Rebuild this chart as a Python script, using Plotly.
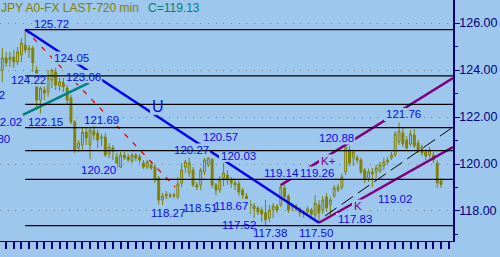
import plotly.graph_objects as go

# ---------------- data ----------------
opens = [124.00,124.51,124.43,124.55,124.34,124.64,125.06,124.85,124.94,124.00,
         122.72,123.15,123.06,123.57,123.92,123.32,123.49,123.23,122.81,121.79,
         120.68,120.81,121.36,120.81,121.40,121.32,121.11,121.15,120.43,120.68,
         120.30,119.87,120.38,120.30,120.13,120.38,120.30,120.04,119.87,119.96,
         119.87,119.40,118.47,118.64,118.68,118.64,118.60,119.19,119.87,119.62,
         119.74,119.11,119.11,119.66,119.96,120.20,119.11,118.89,119.40,119.53,
         119.32,119.19,119.15,118.89,118.64,118.30,118.21,118.13,118.04,117.92,
         117.70,118.04,118.21,118.26,118.98,118.64,118.17,118.21,118.09,117.96,
         117.96,118.04,117.83,118.26,118.04,118.60,118.26,118.64,118.89,119.02,
         119.66,120.60,120.26,120.26,120.17,119.74,119.40,119.66,119.66,119.70,
         119.92,120.09,120.26,120.38,120.94,121.32,121.02,120.85,121.23,120.89,
         120.72,120.51,120.38,120.38,120.04,119.28]
highs = [124.94,124.77,124.77,124.85,124.98,125.36,125.72,125.06,125.02,124.17,
         123.40,123.36,124.00,124.05,124.09,123.66,123.66,123.36,122.94,121.87,
         121.02,121.53,121.53,121.58,121.69,121.45,121.28,121.32,120.89,120.81,
         120.47,120.51,120.51,120.43,120.47,120.47,120.43,120.17,120.17,120.09,
         120.00,119.49,118.77,118.85,118.77,118.77,119.45,120.04,120.17,120.26,
         119.87,119.23,119.83,120.26,120.27,120.25,119.19,119.49,120.03,119.74,
         119.45,119.32,119.28,118.98,118.77,118.47,118.34,118.21,118.17,118.47,
         118.26,118.34,118.30,119.14,119.11,118.72,118.34,118.30,118.17,118.04,
         118.21,118.13,118.68,118.47,118.64,118.77,118.60,119.11,119.15,119.58,
         120.88,120.77,120.60,120.38,120.26,119.83,119.79,119.83,119.96,120.09,
         120.26,120.30,120.51,121.40,121.76,121.57,121.19,121.45,121.49,121.02,
         120.81,120.64,120.72,120.51,120.17,119.40]
lows = [123.49,124.13,124.13,124.09,124.21,124.34,124.72,124.51,123.92,122.30,
        122.15,122.72,122.85,123.23,123.15,123.11,123.06,122.55,121.70,120.47,
        120.51,120.60,120.81,120.20,121.02,120.68,120.77,120.30,120.26,120.17,
        119.74,119.83,120.17,120.09,120.04,120.13,120.04,119.79,119.79,119.74,
        119.19,118.27,118.26,118.51,118.55,118.55,118.51,119.02,119.62,119.45,
        119.02,118.89,118.89,119.53,119.87,118.98,118.67,118.77,119.06,119.11,
        118.98,118.89,118.64,118.26,118.04,117.87,117.70,117.83,117.52,117.38,
        117.53,117.70,117.92,118.17,118.47,117.92,118.00,117.96,117.75,117.70,
        117.79,117.66,117.66,117.50,117.87,117.96,117.83,118.55,118.81,118.89,
        119.53,119.92,119.92,120.04,119.58,119.19,119.23,119.02,119.40,119.62,
        119.74,119.96,120.17,120.30,120.81,120.72,120.55,120.77,120.68,120.47,
        120.34,120.17,120.26,120.04,118.98,118.98]
closes = [124.51,124.30,124.55,124.34,124.77,125.15,124.85,124.94,124.30,122.72,
          123.23,123.02,123.66,124.00,123.36,123.49,123.28,122.72,121.79,120.60,
          120.89,121.36,121.11,121.45,121.23,121.02,121.15,120.38,120.72,120.55,
          119.87,120.38,120.26,120.17,120.38,120.26,120.17,119.87,120.09,119.83,
          119.32,118.47,118.64,118.72,118.64,118.68,119.15,119.74,120.09,120.04,
          119.11,119.02,119.74,120.17,120.26,119.11,118.89,119.32,119.62,119.32,
          119.19,119.11,118.81,118.68,118.34,118.21,118.09,117.96,117.87,117.62,
          118.04,118.21,118.04,119.02,118.60,118.04,118.26,118.09,117.92,117.87,
          118.09,117.87,118.34,117.92,118.47,118.13,118.47,118.98,119.02,119.45,
          120.72,120.04,120.51,120.17,119.66,119.32,119.66,119.58,119.83,119.96,
          120.09,120.17,120.38,121.28,121.40,120.85,120.68,121.28,120.77,120.60,
          120.47,120.34,120.60,120.17,119.19,119.13]
bars = list(range(len(opens)))

# swing extremes used by the drawing tools (bar index, price)
swing_high = (6, 125.72)
swing_low = (69, 117.38)
fib_ratios = [0.0, 0.236, 0.382, 0.5, 0.618, 0.764, 1.0]

# trend lines: ((bar, price), (bar, price))
blue_line = ((6, 125.72), (83, 117.50))
red_line = ((6, 125.72), (45.3, 119.02))
teal_line = ((5.4, 122.09), (22.7, 123.45))
purple_low = ((83, 117.50), (118.14, 120.72))
purple_up = ((73, 119.10), (118.14, 123.66))
black_line = ((84.6, 117.79), (118.14, 121.57))

# labels: text, anchor bar, anchor price, anchor side
label_texts = ["125.72","124.05","123.06","124.22","122.02","122.15","122.72","120.80",
               "121.69","120.20","U","120.57","120.27","120.03","118.27","118.51",
               "118.67","117.52","117.38","117.50","119.14","119.26","K+","120.88",
               "121.76","K","119.02","117.83"]
label_bars = [8.05,13.29,16.44,2.02,5.45,6.47,0.84,2.15,
              21.15,20.37,38.98,52.35,44.75,57.06,38.72,47.10,
              55.23,57.33,65.45,77.51,68.34,77.77,83.28,82.75,
              100.32,91.93,98.22,87.73]
label_prices = [125.94,124.51,123.72,123.57,121.77,121.77,122.92,121.06,
                121.89,119.745,122.43,121.15,120.60,120.36,117.915,118.11,
                118.23,117.40,117.06,117.06,119.62,119.62,120.13,121.11,
                122.11,118.21,118.53,117.64]
label_side = ["left"]*4 + ["right", "left", "right", "right"] + ["left"]*20
tick_vals = [118, 120, 122, 124, 126]

title_text = "JPY A0-FX LAST-720 min"
last_text = "C=119.13"

# ---------------- styling ----------------
BG = "#9DC7EC"
OLIVE = "#808000"
NAVY = "#000080"
LBL = "#0A0AEE"
PURPLE = "#800080"
FONT = "Liberation Sans, Arial, sans-serif"
PLOT_W, PLOT_H = 453, 241
X_RANGE = [-0.603, 118.14]
Y_RANGE = [116.723, 126.979]
ppx = PLOT_W / (X_RANGE[1] - X_RANGE[0])
ppy = PLOT_H / (Y_RANGE[1] - Y_RANGE[0])
LFS = 11.5
CW = {'.': 0.278, 'K': 0.667, '+': 0.584, 'U': 0.722}


def text_w(t, fs):
    return fs * sum(CW.get(c, 0.556) for c in t)


fig = go.Figure()
fig.add_trace(go.Candlestick(
    x=bars, open=opens, high=highs, low=lows, close=closes,
    increasing=dict(line=dict(color=OLIVE, width=1), fillcolor=BG),
    decreasing=dict(line=dict(color=OLIVE, width=1), fillcolor=OLIVE),
    whiskerwidth=0, hoverinfo="skip", showlegend=False))

shapes = []


def seg(line, color, width, dash="solid"):
    (x0, y0), (x1, y1) = line
    shapes.append(dict(type="line", xref="x", yref="y", x0=x0, y0=y0, x1=x1, y1=y1,
                       line=dict(color=color, width=width, dash=dash), layer="above"))


seg(red_line, "#F00000", 1.3, "5px,7px")
seg(teal_line, "#008080", 2.5)
seg(blue_line, "#0000FF", 2.5)
seg(purple_low, PURPLE, 2.5)
seg(purple_up, PURPLE, 2.5)
seg(black_line, "#000000", 1, "14px,6px")

# label backgrounds (they break the trend lines like in the original)
annotations = []
for t, bx, pr, side in zip(label_texts, label_bars, label_prices, label_side):
    fs = 16 if t == "U" else LFS
    w = (text_w(t, fs) + 2) / ppx
    if side == "left":
        x0, x1 = bx - 1 / ppx, bx + w
    else:
        x0, x1 = bx - w, bx + 1 / ppx
    hh = 8 if t == "U" else 6.5
    shapes.append(dict(type="rect", xref="x", yref="y", x0=x0, x1=x1,
                       y0=pr - hh / ppy, y1=pr + hh / ppy,
                       fillcolor=BG, line=dict(width=0), layer="above"))
    color = PURPLE if t.startswith("K") else LBL
    annotations.append(dict(text=t, x=bx, y=pr, xref="x", yref="y", xanchor=side,
                            yanchor="middle", showarrow=False, borderpad=0,
                            font=dict(family=FONT, size=fs, color=color)))

# Fibonacci levels
hi, lo = swing_high[1], swing_low[1]
for r in fib_ratios:
    lev = hi - r * (hi - lo)
    shapes.append(dict(type="line", xref="x", yref="y", x0=swing_high[0], x1=X_RANGE[1],
                       y0=lev, y1=lev, line=dict(color="#000000", width=1.2), layer="above"))

annotations.append(dict(text=title_text, xref="paper", yref="paper", x=0, y=1 - 8.5 / PLOT_H,
                        xanchor="left", yanchor="middle", showarrow=False, borderpad=0,
                        font=dict(family=FONT, size=12, color=OLIVE)))
annotations.append(dict(text=last_text, xref="paper", yref="paper", x=147 / PLOT_W,
                        y=1 - 8.5 / PLOT_H, xanchor="left", yanchor="middle", showarrow=False,
                        borderpad=0, font=dict(family=FONT, size=12, color="#008080")))

fig.update_layout(
    width=500, height=257,
    margin=dict(l=0, r=47, t=0, b=16, pad=0),
    paper_bgcolor=BG, plot_bgcolor=BG,
    showlegend=False,
    shapes=shapes, annotations=annotations,
    xaxis=dict(range=X_RANGE, rangeslider=dict(visible=False), showgrid=False,
               zeroline=False, showline=True, linecolor=NAVY, linewidth=1,
               ticks="outside", ticklen=7, tickwidth=1.5, tickcolor=NAVY,
               tickmode="linear", tick0=1, dtick=2, showticklabels=False,
               automargin=False, fixedrange=True),
    yaxis=dict(range=Y_RANGE, side="right", tickmode="array", tickvals=tick_vals,
               tickformat=".2f", ticks="outside", ticklen=5, tickwidth=1, tickcolor=NAVY,
               showline=True, linecolor=NAVY, linewidth=1.5, mirror=True,
               showgrid=True, gridcolor="#808080", griddash="1px,6.7px", gridwidth=1,
               zeroline=False, automargin=False, ticklabelstandoff=-3,
               minor=dict(ticks="outside", ticklen=3, tickcolor=NAVY, dtick=1, tick0=0,
                          showgrid=False),
               tickfont=dict(family=FONT, size=12.5, color=NAVY)),
)

fig.write_html("out.html")
